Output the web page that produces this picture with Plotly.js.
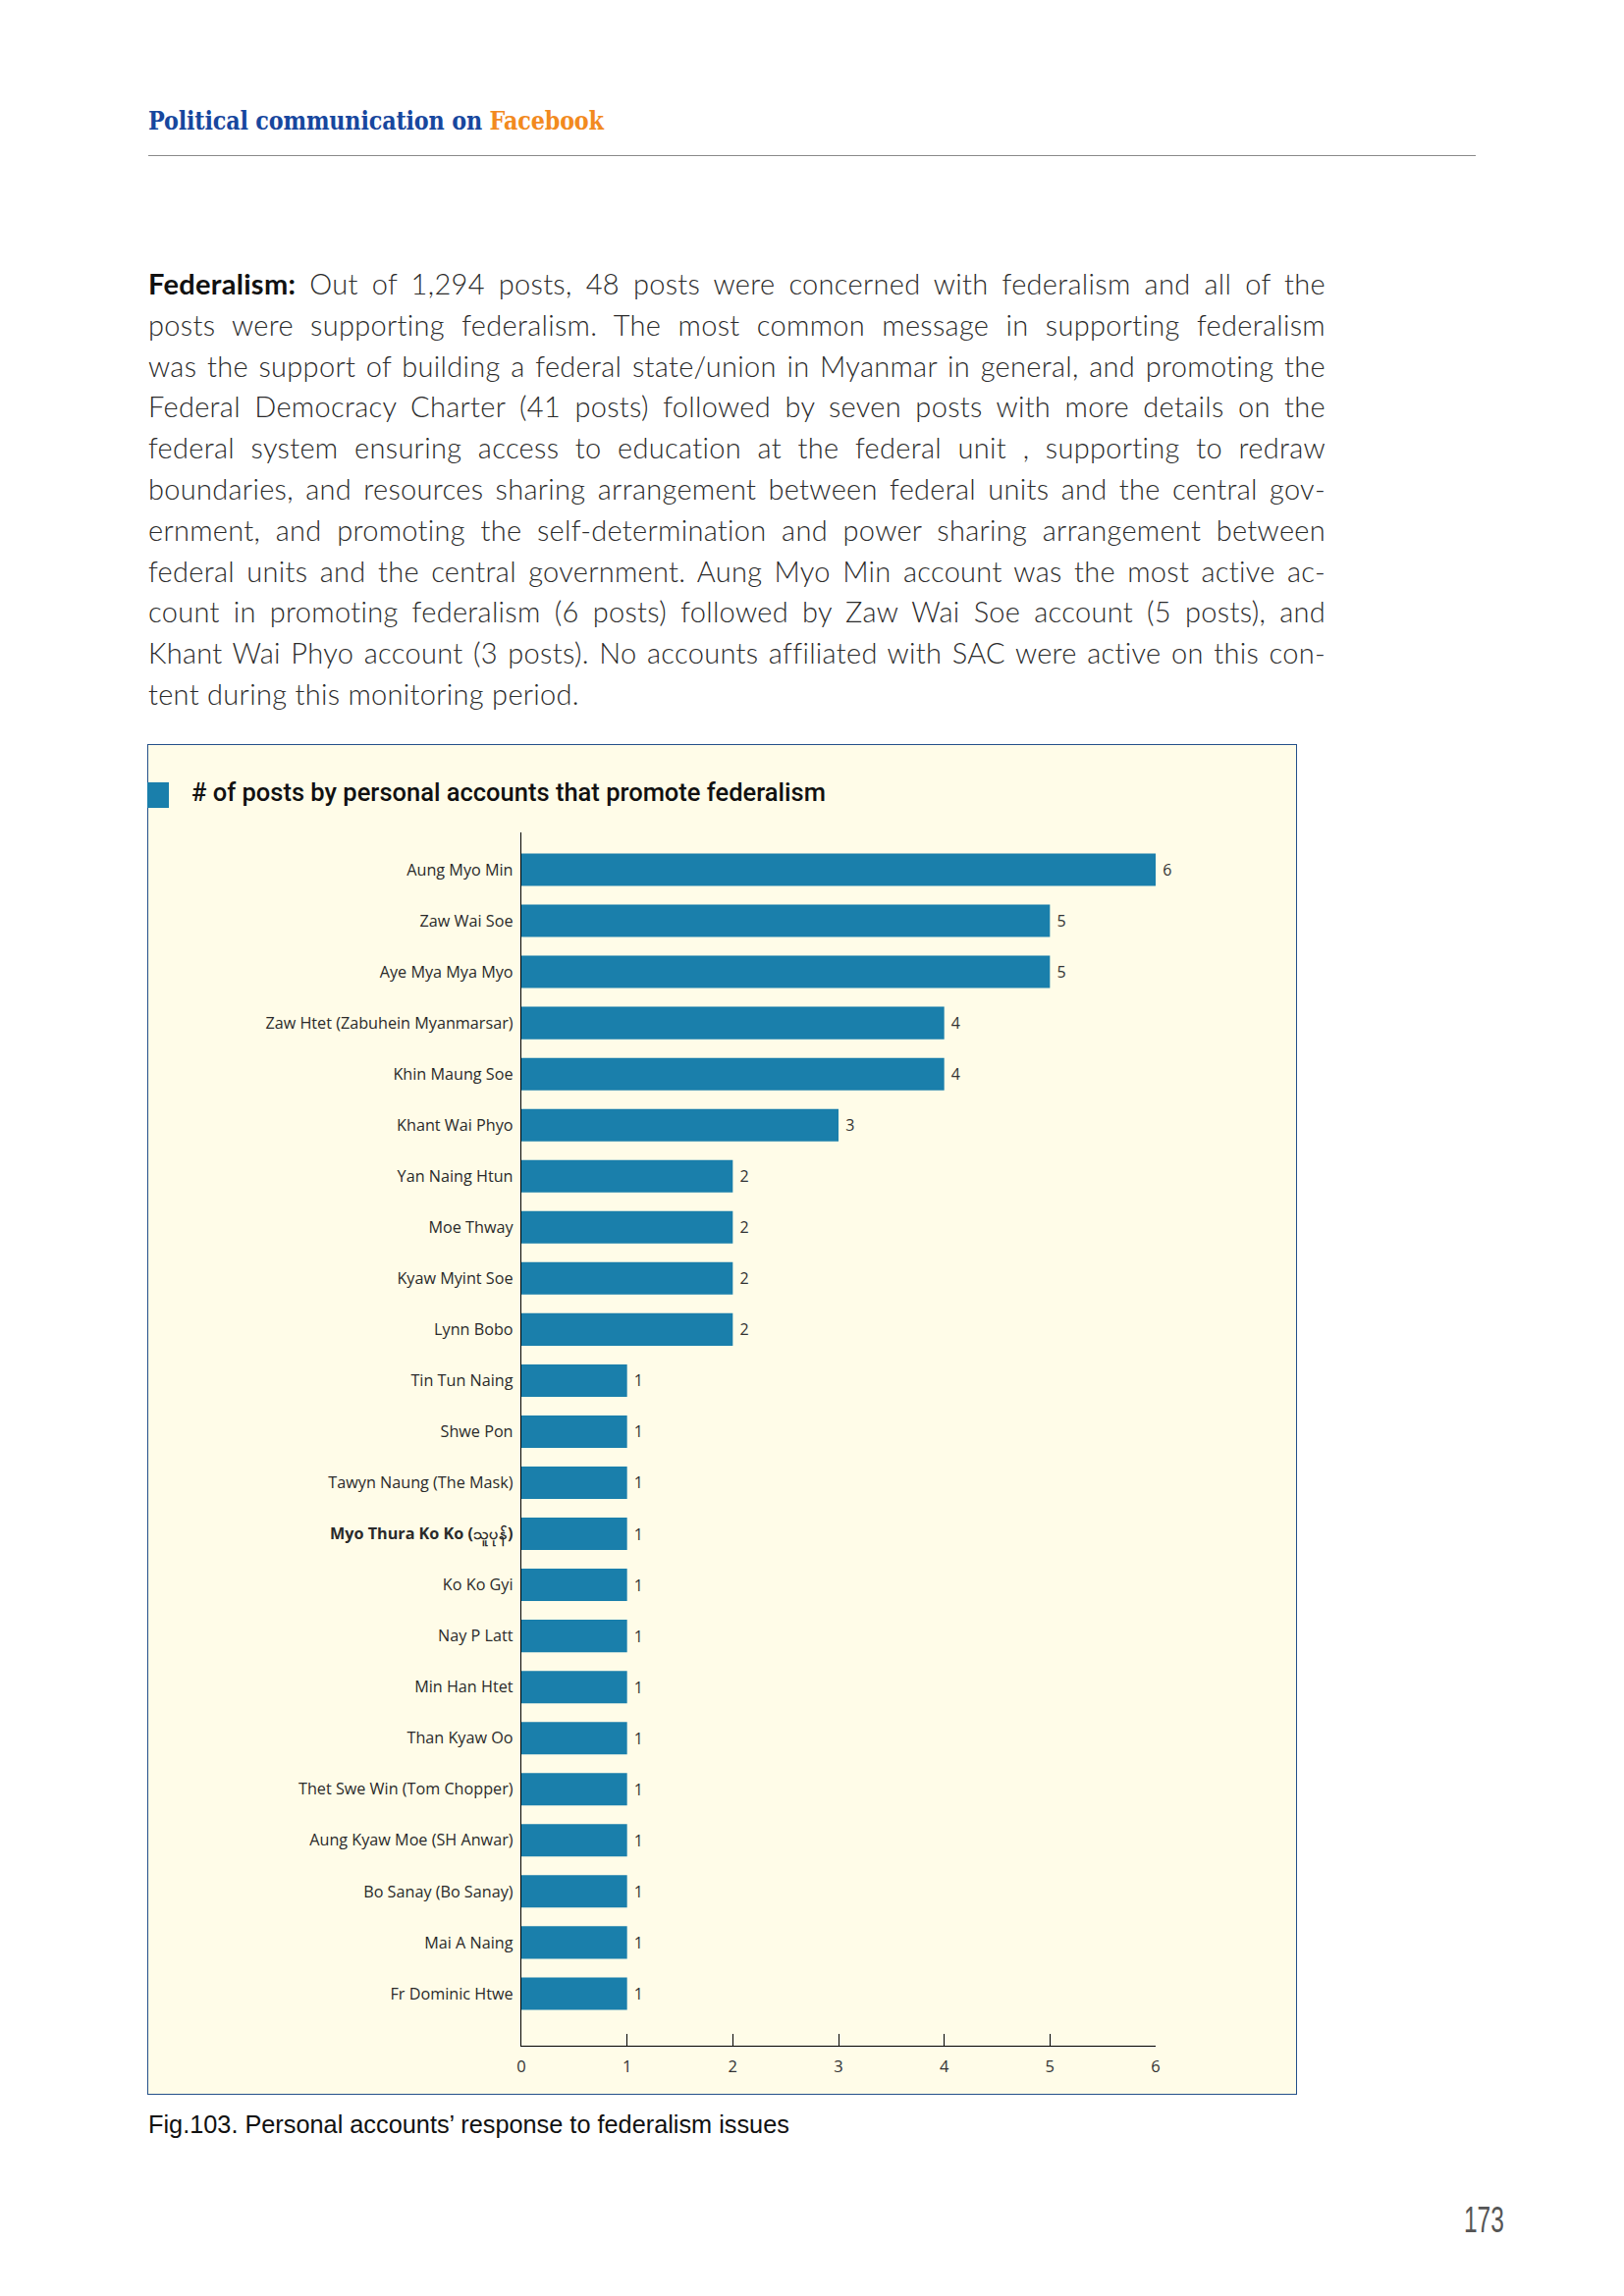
<!DOCTYPE html>
<html>
<head>
<meta charset="utf-8">
<script src="https://cdn.plot.ly/plotly-3.0.1.min.js"></script>
<style>
  html, body { margin: 0; padding: 0; background: #ffffff; }
  #page { position: relative; width: 1654px; height: 2339px; overflow: hidden; background: #ffffff; }
  #header { position: absolute; left: 151px; top: 108px; font-family: "DejaVu Serif", serif; font-weight: bold; font-size: 25.5px; color: #17479e; white-space: nowrap; letter-spacing: -0.2px; transform: scaleX(0.875); transform-origin: left top; }
  #header span { color: #f28a1e; }
  #rule { position: absolute; left: 151px; top: 158px; width: 1352px; height: 0; border-top: 1.5px solid #8a8a8a; }
  #para { position: absolute; left: 151px; top: 268px; width: 1199px; font-family: "Lato", "Open Sans", sans-serif; font-weight: 300; font-size: 29px; letter-spacing: 0.3px; color: #2b2b2b; }
  #para .ln { height: 41.8px; line-height: 41.8px; text-align: justify; text-align-last: justify; white-space: nowrap; }
  #para .ln.last { text-align-last: left; }
  #para b { font-weight: bold; color: #111; }
  #box { position: absolute; left: 150px; top: 758px; width: 1171px; height: 1376px; box-sizing: border-box; border: 1.5px solid #24508a; background: #fffce8; }
  #chart { position: absolute; left: 150px; top: 758px; width: 1171px; height: 1376px; }
  #caption { position: absolute; left: 151px; top: 2150px; font-family: "Liberation Sans", Arial, sans-serif; font-size: 25.3px; color: #111; white-space: nowrap; }
  #pagenum { position: absolute; left: 1491px; top: 2241px; font-family: "Liberation Sans", Arial, sans-serif; font-size: 36px; color: #555; transform: scaleX(0.68); transform-origin: left top; }
</style>
</head>
<body>
<div id="page">
  <div id="header">Political communication on <span>Facebook</span></div>
  <div id="rule"></div>
  <div id="para">
    <div class="ln"><b>Federalism:</b> Out of 1,294 posts, 48 posts were concerned with federalism and all of the</div>
    <div class="ln">posts were supporting federalism. The most common message in supporting federalism</div>
    <div class="ln">was the support of building a federal state/union in Myanmar in general, and promoting the</div>
    <div class="ln">Federal Democracy Charter (41 posts) followed by seven posts with more details on the</div>
    <div class="ln">federal system ensuring access to education at the federal unit , supporting to redraw</div>
    <div class="ln">boundaries, and resources sharing arrangement between federal units and the central gov-</div>
    <div class="ln">ernment, and promoting the self-determination and power sharing arrangement between</div>
    <div class="ln">federal units and the central government. Aung Myo Min account was the most active ac-</div>
    <div class="ln">count in promoting federalism (6 posts) followed by Zaw Wai Soe account (5 posts), and</div>
    <div class="ln">Khant Wai Phyo account (3 posts). No accounts affiliated with SAC were active on this con-</div>
    <div class="ln last">tent during this monitoring period.</div>
  </div>
  <div id="box"></div>
  <div id="chart"></div>
  <div id="caption">Fig.103. Personal accounts’ response to federalism issues</div>
  <div id="pagenum">173</div>
</div>
<script>
// ---- data ----
var accounts = [
  "Aung Myo Min",
  "Zaw Wai Soe",
  "Aye Mya Mya Myo",
  "Zaw Htet (Zabuhein Myanmarsar)",
  "Khin Maung Soe",
  "Khant Wai Phyo",
  "Yan Naing Htun",
  "Moe Thway",
  "Kyaw Myint Soe",
  "Lynn Bobo",
  "Tin Tun Naing",
  "Shwe Pon",
  "Tawyn Naung (The Mask)",
  "Myo Thura Ko Ko (သူပုန်)",
  "Ko Ko Gyi",
  "Nay P Latt",
  "Min Han Htet",
  "Than Kyaw Oo",
  "Thet Swe Win (Tom Chopper)",
  "Aung Kyaw Moe (SH Anwar)",
  "Bo Sanay (Bo Sanay)",
  "Mai A Naing",
  "Fr Dominic Htwe"
];
var posts = [6, 5, 5, 4, 4, 3, 2, 2, 2, 2, 1, 1, 1, 1, 1, 1, 1, 1, 1, 1, 1, 1, 1];
var xTicks = [0, 1, 2, 3, 4, 5, 6];
var chartTitle = "# of posts by personal accounts that promote federalism";
var boldAccounts = ["Myo Thura Ko Ko (သူပုန်)"];

var barColor = "#1a7fab";
var ticktext = accounts.map(function (a) {
  return boldAccounts.indexOf(a) >= 0 ? "<b>" + a + "</b>" : a;
});

var trace = {
  type: "bar",
  orientation: "h",
  x: posts,
  y: accounts,
  marker: { color: barColor, line: { width: 0 } },
  texttemplate: "\u00a0%{x}",
  textposition: "outside",
  cliponaxis: false,
  textfont: { family: "Open Sans, sans-serif", size: 16, color: "#333333" },
  hoverinfo: "none"
};

var layout = {
  width: 1171,
  height: 1376,
  margin: { l: 381, r: 144, t: 90, b: 50, pad: 0 },
  paper_bgcolor: "rgba(0,0,0,0)",
  plot_bgcolor: "rgba(0,0,0,0)",
  showlegend: false,
  bargap: 0.365,
  title: {
    text: chartTitle,
    xref: "container", yref: "container",
    x: 0.0384, xanchor: "left",
    y: 0.9644, yanchor: "middle",
    font: { family: "Roboto, sans-serif", size: 25.5, weight: 500, color: "#111111" }
  },
  xaxis: {
    range: [0, 6],
    tickmode: "array",
    tickvals: xTicks,
    ticktext: xTicks.map(String),
    showgrid: false,
    zeroline: false,
    showline: true,
    linecolor: "#000000",
    linewidth: 1.2,
    ticks: "inside",
    ticklen: 12,
    tickwidth: 1,
    tickcolor: "#000000",
    ticklabelstandoff: 6,
    tickfont: { family: "Open Sans, sans-serif", size: 16.5, color: "#333333" },
    fixedrange: true
  },
  yaxis: {
    type: "category",
    categoryorder: "array",
    categoryarray: accounts,
    range: [23.02, -0.73],
    tickmode: "array",
    tickvals: accounts,
    ticktext: ticktext,
    showgrid: false,
    zeroline: false,
    showline: true,
    linecolor: "#000000",
    linewidth: 1.2,
    ticks: "",
    ticklabelstandoff: 4,
    tickfont: { family: "Open Sans, sans-serif", size: 16.2, color: "#2a2a2a" },
    fixedrange: true
  },
  shapes: [
    {
      type: "rect", xref: "paper", yref: "paper",
      x0: -0.5898, x1: -0.5557, y0: 1.0202, y1: 1.0413,
      fillcolor: barColor, line: { width: 0 }, layer: "above"
    }
  ]
};

Plotly.newPlot("chart", [trace], layout, { displayModeBar: false, staticPlot: true });
</script>
</body>
</html>
